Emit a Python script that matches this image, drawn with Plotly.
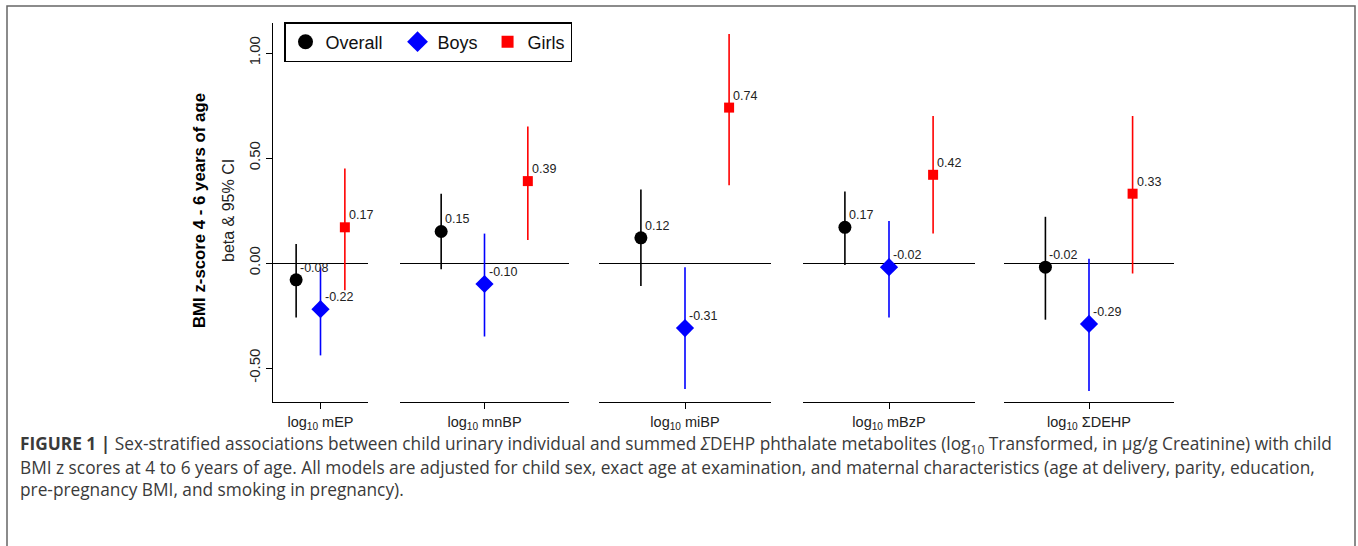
import plotly.graph_objects as go

W, H = 1358, 546

# ---------------- data ----------------
categories = ["log<sub>10</sub> mEP", "log<sub>10</sub> mnBP", "log<sub>10</sub> miBP",
              "log<sub>10</sub> mBzP", "log<sub>10</sub> ΣDEHP"]
overall_beta = [-0.08, 0.15, 0.12, 0.17, -0.02]
overall_lo = [-0.26, -0.03, -0.11, -0.01, -0.27]
overall_hi = [0.09, 0.33, 0.35, 0.34, 0.22]
boys_beta = [-0.22, -0.10, -0.31, -0.02, -0.29]
boys_lo = [-0.44, -0.35, -0.60, -0.26, -0.61]
boys_hi = [-0.02, 0.14, -0.02, 0.20, 0.02]
girls_beta = [0.17, 0.39, 0.74, 0.42, 0.33]
girls_lo = [-0.13, 0.11, 0.37, 0.14, -0.05]
girls_hi = [0.45, 0.65, 1.09, 0.70, 0.70]
y_ticks = [-0.5, 0.0, 0.5, 1.0]
y_ticklabels = ["-0.50", "0.00", "0.50", "1.00"]
groups = ["Overall", "Boys", "Girls"]
group_pos = [-1, 0, 1]

# ---------------- styles / layout geometry ----------------
colors = ["#000000", "#0000FF", "#FF0000"]
symbols = ["circle", "diamond", "square"]
sizes = [13, 14, 10]
legend_sizes = [15, 17, 12]
legend_pad = ["\u00a0\u00a0", "\u00a0", ""]
panel_px = [(273, 368), (400, 569), (599, 771), (803, 975), (1004, 1174)]
y_top_px, y_bot_px, y_zero_px, px_per_unit = 23, 402, 263, 210.0
FONT = "Liberation Sans, Arial, sans-serif"
CAP_FONT = "Open Sans, Liberation Sans, sans-serif"

def px_x(p):
    return p / W

def px_y(p):
    return 1 - p / H

y_range = [(y_zero_px - y_bot_px) / px_per_unit, (y_zero_px - y_top_px) / px_per_unit]
ydomain = [px_y(y_bot_px), px_y(y_top_px)]

series = [
    (overall_beta, overall_lo, overall_hi),
    (boys_beta, boys_lo, boys_hi),
    (girls_beta, girls_lo, girls_hi),
]

fig = go.Figure()

for i in range(len(categories)):
    xa = "x" if i == 0 else f"x{i+1}"
    ya = "y" if i == 0 else f"y{i+1}"
    for g, (beta, lo, hi) in enumerate(series):
        fig.add_trace(go.Scatter(
            x=[group_pos[g]], y=[beta[i]],
            xaxis=xa, yaxis=ya,
            mode="markers",
            marker=dict(symbol=symbols[g], size=sizes[g], color=colors[g]),
            error_y=dict(type="data", symmetric=False,
                         array=[hi[i] - beta[i]], arrayminus=[beta[i] - lo[i]],
                         color=colors[g], thickness=1.6, width=0),
            showlegend=False, hoverinfo="skip", cliponaxis=False,
        ))
        fig.add_annotation(x=group_pos[g], y=beta[i], xref=xa, yref=ya,
                           text=f"{beta[i]:.2f}", showarrow=False,
                           xanchor="left", yanchor="middle", xshift=2, yshift=12,
                           font=dict(family=FONT, size=12.5, color="#222222"))

# legend entries
for g in range(3):
    fig.add_trace(go.Scatter(
        x=[None], y=[None], mode="markers", name=groups[g] + legend_pad[g],
        marker=dict(symbol=symbols[g], size=legend_sizes[g], color=colors[g]),
        showlegend=True,
    ))

layout = dict(
    width=W, height=H,
    margin=dict(l=0, r=0, t=0, b=0),
    paper_bgcolor="white", plot_bgcolor="white",
    showlegend=True,
    legend=dict(orientation="h", x=px_x(284), y=px_y(22), xanchor="left", yanchor="top",
                bordercolor="#000000", borderwidth=1.5, bgcolor="white",
                font=dict(family=FONT, size=18, color="#111111"),
                itemclick=False, itemdoubleclick=False),
    font=dict(family=FONT),
)

for i, cat in enumerate(categories):
    xk = "xaxis" if i == 0 else f"xaxis{i+1}"
    yk = "yaxis" if i == 0 else f"yaxis{i+1}"
    a, b = panel_px[i]
    layout[xk] = dict(
        domain=[px_x(a), px_x(b)], range=[-1.95, 1.95],
        anchor="y" if i == 0 else f"y{i+1}",
        showline=True, linecolor="#000000", linewidth=1.3,
        tickvals=[0], ticktext=[cat], ticks="outside", ticklen=6, tickcolor="#000000",
        tickfont=dict(family=FONT, size=14.5, color="#222222"),
        showgrid=False, zeroline=False, fixedrange=True,
    )
    ydict = dict(
        domain=ydomain, range=y_range,
        anchor="x" if i == 0 else f"x{i+1}",
        showgrid=False, zeroline=True, zerolinecolor="#000000", zerolinewidth=1.1,
        fixedrange=True,
    )
    if i == 0:
        ydict.update(showline=True, linecolor="#000000", linewidth=1.3,
                     tickvals=y_ticks, ticktext=y_ticklabels, ticks="outside", ticklen=6,
                     tickcolor="#000000", tickangle=-90,
                     tickfont=dict(family=FONT, size=15, color="#222222"))
    else:
        ydict.update(showline=False, showticklabels=False, ticks="")
    layout[yk] = ydict

fig.update_layout(**layout)

# axis titles
fig.add_annotation(xref="paper", yref="paper", x=px_x(200), y=px_y(211),
                   text="<b>BMI z-score 4 - 6 years of age</b>", textangle=-90,
                   showarrow=False, xanchor="center", yanchor="middle",
                   font=dict(family=FONT, size=16.8, color="#000000"))
fig.add_annotation(xref="paper", yref="paper", x=px_x(229), y=px_y(211),
                   text="beta &amp; 95% CI", textangle=-90,
                   showarrow=False, xanchor="center", yanchor="middle",
                   font=dict(family=FONT, size=16, color="#222222"))

# caption
caption_lines = [
    "<b>FIGURE 1 |</b> Sex-stratified associations between child urinary individual and summed "
    "<i>Σ</i>DEHP phthalate metabolites (log<sub>10</sub> Transformed, in μg/g Creatinine) with child",
    "BMI z scores at 4 to 6 years of age. All models are adjusted for child sex, exact age at examination, "
    "and maternal characteristics (age at delivery, parity, education,",
    "pre-pregnancy BMI, and smoking in pregnancy).",
]
caption_y = [445, 467, 489]
for line, yy in zip(caption_lines, caption_y):
    fig.add_annotation(xref="paper", yref="paper", x=px_x(18), y=px_y(yy),
                       text=line, showarrow=False, xanchor="left", yanchor="middle",
                       align="left", font=dict(family=CAP_FONT, size=17.3, color="#3a3a3a"))

# figure frame
fig.add_shape(type="rect", xref="paper", yref="paper",
              x0=px_x(7), x1=px_x(1355), y0=-0.05, y1=px_y(6),
              line=dict(color="#666666", width=1.5), fillcolor="rgba(0,0,0,0)", layer="below")

fig.write_html("out.html", config={"displayModeBar": False},
               post_script="document.body.style.margin='0px';document.body.style.padding='0px';")
